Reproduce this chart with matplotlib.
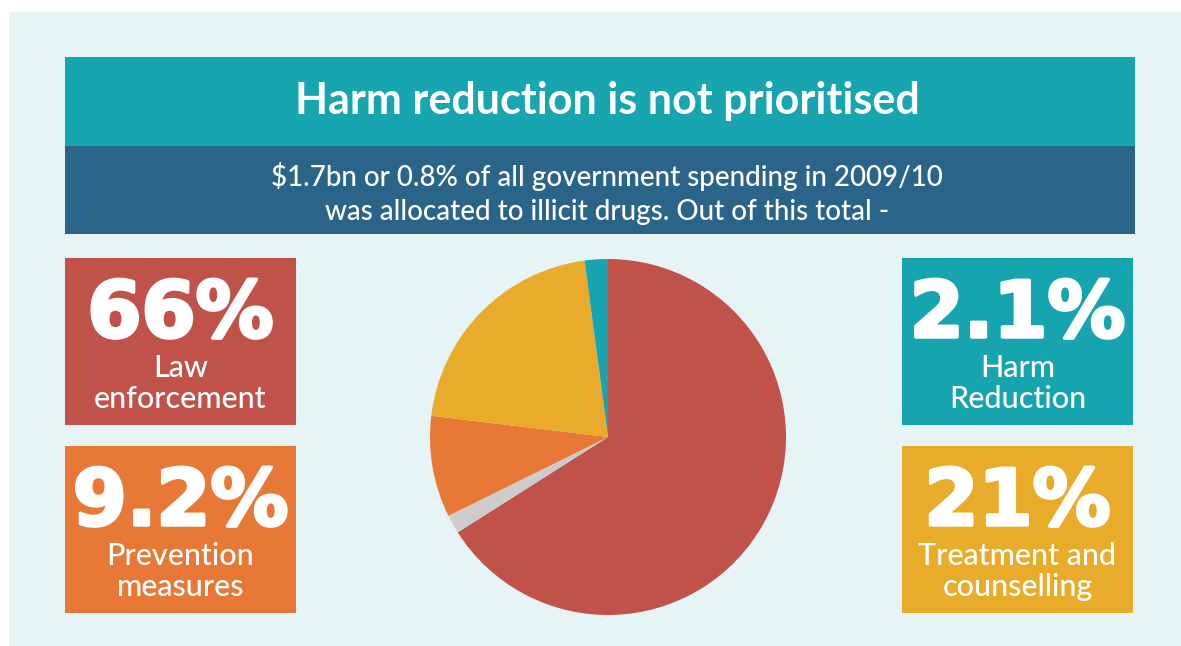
import matplotlib.pyplot as plt
import matplotlib.patheffects as pe
from matplotlib.patches import Rectangle

# spending shares, 2009/10 (percent)
categories = ['Law enforcement', 'Other', 'Prevention measures',
              'Treatment and counselling', 'Harm Reduction']
shares = [66, 1.7, 9.2, 21, 2.1]
slice_colors = ['#C0524A', '#CCCCCC', '#E87835', '#E9AC2A', '#16A5AF']

title = 'Harm reduction is not prioritised'
subtitle_lines = ['$1.7bn or 0.8% of all government spending in 2009/10',
                  'was allocated to illicit drugs. Out of this total -']

# side boxes
box_numbers = ['66%', '9.2%', '2.1%', '21%']
box_labels = [['Law', 'enforcement'], ['Prevention', 'measures'],
              ['Harm', 'Reduction'], ['Treatment and', 'counselling']]
box_colors = ['#C0524A', '#E87835', '#16A5AF', '#E9AC2A']
box_left = [65, 65, 902, 902]
box_top = [258, 446, 258, 446]
BOX_W, BOX_H = 231, 167

W, H = 1181, 646
fig = plt.figure(figsize=(W / 100, H / 100), dpi=100)
fig.patch.set_facecolor('white')

# pixel-space canvas for the panels and text
ax = fig.add_axes([0, 0, 1, 1])
ax.set_xlim(0, W)
ax.set_ylim(H, 0)
ax.axis('off')

ax.add_patch(Rectangle((9, 12), W - 9, H - 12, color='#E6F4F5', lw=0))
ax.add_patch(Rectangle((65, 57), 1070, 89, color='#17A5B0', lw=0))
ax.add_patch(Rectangle((65, 146), 1070, 88, color='#2A6589', lw=0))

ax.text(607, 114, title, ha='center', va='baseline', color='white',
        fontsize=31, fontweight='bold', family='Lato')
for i, line in enumerate(subtitle_lines):
    ax.text(607, 186 + 34 * i, line, ha='center', va='baseline',
            color='white', fontsize=20, fontweight='medium', family='Lato')

# thicken the big numbers a little
heavy = [pe.withStroke(linewidth=2.5, foreground='white')]

for num, lab, col, x0, y0 in zip(box_numbers, box_labels, box_colors,
                                 box_left, box_top):
    ax.add_patch(Rectangle((x0, y0), BOX_W, BOX_H, color=col, lw=0))
    cx = x0 + BOX_W / 2
    ax.text(cx, y0 + 79, num, ha='center', va='baseline', color='white',
            fontsize=56, fontweight='black', family='DejaVu Sans',
            path_effects=heavy)
    for j, line in enumerate(lab):
        ax.text(cx, y0 + 119 + 31 * j, line, ha='center', va='baseline',
                color='white', fontsize=22, fontweight='medium', family='Lato')

# pie, clockwise from 12 o'clock
R = 178
cx, cy = 608, 437
pax = fig.add_axes([(cx - R) / W, (H - cy - R) / H, 2 * R / W, 2 * R / H])
pax.pie(shares, colors=slice_colors, startangle=90, counterclock=False,
        wedgeprops=dict(linewidth=0))
pax.set_xlim(-1, 1)
pax.set_ylim(-1, 1)
pax.set_aspect('equal')
pax.axis('off')

fig.savefig('out.png', dpi=100, facecolor=fig.get_facecolor())
